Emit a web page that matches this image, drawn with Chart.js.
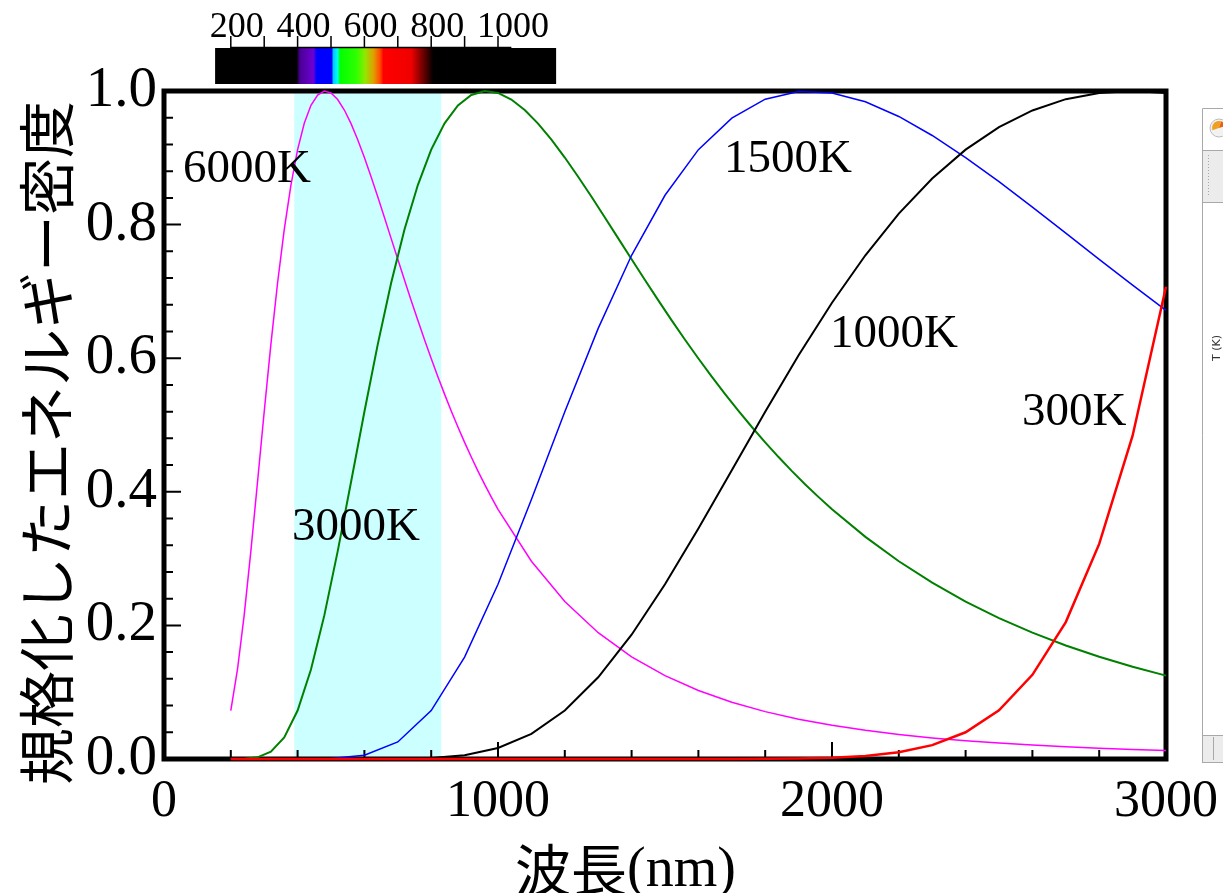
<!DOCTYPE html>
<html><head><meta charset="utf-8">
<script src="https://cdn.jsdelivr.net/npm/chart.js@4.4.0/dist/chart.umd.min.js"></script>
<style>html,body{margin:0;padding:0;background:#fff;overflow:hidden}</style>
</head><body>
<div style="width:1223px;height:893px;position:relative"><canvas id="c" width="1223" height="893"></canvas></div>
<script>
// ---------- data ----------
const wavelengths = [200,300,400,500,600,700,800,900,1000,1100,1200,1300,1400,1500,1600,1700,1800,1900,2000,2100,2200,2300,2400,2500,2600,2700,2800,2900,3000];
const wavelengths6000K = [200,220,240,260,280,300,320,340,360,380,400,420,440,460,480,500,520,540,560,580,600,620,640,660,680,700,720,740,760,780,800,820,840,860,880,900,920,940,960,980,1000,1100,1200,1300,1400,1500,1600,1700,1800,1900,2000,2100,2200,2300,2400,2500,2600,2700,2800,2900,3000];
const values6000K = [0.0725,0.1340,0.2150,0.3108,0.4147,0.5199,0.6207,0.7126,0.7926,0.8592,0.9122,0.9516,0.9785,0.9940,0.9999,0.9971,0.9872,0.9715,0.9511,0.9271,0.9004,0.8716,0.8416,0.8107,0.7794,0.7480,0.7170,0.6865,0.6567,0.6277,0.5995,0.5724,0.5462,0.5211,0.4970,0.4740,0.4520,0.4310,0.4110,0.3920,0.3738,0.2960,0.2357,0.1891,0.1530,0.1248,0.1026,0.0850,0.0709,0.0596,0.0504,0.0429,0.0368,0.0316,0.0274,0.0238,0.0208,0.0182,0.0160,0.0142,0.0126];
const wavelengths3000K = [200,240,280,320,360,400,440,480,520,560,600,640,680,720,760,800,840,880,920,960,1000,1040,1080,1120,1160,1200,1240,1280,1320,1360,1400,1440,1480,1520,1560,1600,1640,1680,1720,1760,1800,1840,1880,1920,1960,2000,2100,2200,2300,2400,2500,2600,2700,2800,2900,3000];
const values3000K = [0.0000,0.0003,0.0025,0.0111,0.0324,0.0725,0.1340,0.2150,0.3108,0.4147,0.5199,0.6207,0.7126,0.7926,0.8592,0.9122,0.9516,0.9785,0.9940,0.9999,0.9971,0.9872,0.9715,0.9511,0.9271,0.9004,0.8716,0.8416,0.8107,0.7794,0.7480,0.7170,0.6865,0.6567,0.6277,0.5995,0.5724,0.5462,0.5211,0.4970,0.4740,0.4520,0.4310,0.4110,0.3920,0.3738,0.3325,0.2960,0.2639,0.2357,0.2110,0.1891,0.1700,0.1530,0.1380,0.1248];
const values1500K = [0,0,0,0.0006,0.0056,0.0255,0.0725,0.1526,0.2615,0.3884,0.5199,0.6446,0.7541,0.8439,0.9122,0.9594,0.9878,0.9993,0.9971,0.9838,0.9619,0.9334,0.9004,0.8642,0.8261,0.7872,0.7480,0.7094,0.6715];
const values1000K = [0,0,0,0,0,0.0002,0.0014,0.0056,0.0164,0.0377,0.0725,0.1223,0.1861,0.2615,0.3449,0.4324,0.5199,0.6044,0.6831,0.7541,0.8165,0.8691,0.9122,0.9460,0.9709,0.9878,0.9971,1.0000,0.9971];
const values300K = [0,0,0,0,0,0,0,0,0,0,0,0,0,0,0,0.0001,0.0002,0.0007,0.0018,0.0045,0.0100,0.0207,0.0400,0.0730,0.1260,0.2050,0.3220,0.4840,0.7070];
const seriesNames = ['300K','1000K','1500K','3000K','6000K'];
const xTickLabels = [0,1000,2000,3000];
const yTickLabels = ['0.0','0.2','0.4','0.6','0.8','1.0'];
const visibleBand = [390, 830];
const colorbarRange = [153, 1174];
const colorbarTicks = [200,300,400,500,600,700,800,900,1000];
const colorbarLabels = [200,400,600,800,1000];
const spectrumStops = [[397,'#000000'],[407,'#4a0096'],[447,'#6e00d2'],[457,'#0000ff'],[502,'#0000ff'],[507,'#00c8ff'],[520,'#00ffee'],[527,'#00ff00'],[577,'#30ff00'],[602,'#90e800'],[627,'#e0a000'],[647,'#ff4a00'],[657,'#ff0000'],[740,'#f00000'],[806,'#000000']];
const curveLabels = [
  {text:'6000K', x:57, y:0.864},
  {text:'3000K', x:383, y:0.328},
  {text:'1500K', x:1677, y:0.879},
  {text:'1000K', x:1994, y:0.617},
  {text:'300K', x:2569, y:0.500}
];
const yTitle = '規格化したエネルギー密度';
const xTitleJa = '波長';
const xTitleUnit = '(nm)';

function pts(xs, ys){ return xs.map((v,i)=>({x:v, y:ys[i]})); }

const serif = '"Liberation Serif", "Times New Roman", serif';
const cjk = '"Noto Sans CJK JP", "Noto Sans CJK SC", sans-serif';

const deco = {
  id:'deco',
  beforeDatasetsDraw(chart){
    const {ctx, chartArea:a, scales:{x,y}} = chart;
    ctx.save();
    const b0 = x.getPixelForValue(visibleBand[0]), b1 = x.getPixelForValue(visibleBand[1]);
    ctx.fillStyle = '#ccffff';
    ctx.fillRect(b0, a.top, b1-b0, a.bottom-a.top);
    ctx.strokeStyle = '#000'; ctx.lineWidth = 5;
    ctx.strokeRect(a.left, a.top, a.right-a.left, a.bottom-a.top);
    ctx.lineWidth = 2;
    ctx.beginPath();
    for (let v=200; v<3000; v+=200){
      const px = x.getPixelForValue(v);
      const len = (v%1000===0) ? 17 : 9;
      ctx.moveTo(px, a.bottom); ctx.lineTo(px, a.bottom-len);
    }
    for (let k=1; k<25; k++){
      const py = y.getPixelForValue(k*0.04);
      const len = (k%5===0) ? 17 : 9;
      ctx.moveTo(a.left, py); ctx.lineTo(a.left+len, py);
    }
    ctx.stroke();
    ctx.restore();
  },
  afterDraw(chart){
    const {ctx, chartArea:a, scales:{x,y}} = chart;
    ctx.save();
    // colorbar
    const c0 = x.getPixelForValue(colorbarRange[0]), c1 = x.getPixelForValue(colorbarRange[1]);
    ctx.fillStyle = '#000';
    ctx.fillRect(c0, 48, c1-c0, 36);
    const s0 = spectrumStops[0][0], s1 = spectrumStops[spectrumStops.length-1][0];
    const g0 = x.getPixelForValue(s0), g1 = x.getPixelForValue(s1);
    const grad = ctx.createLinearGradient(g0,0,g1,0);
    spectrumStops.forEach(([nm,col])=>grad.addColorStop((nm-s0)/(s1-s0), col));
    ctx.fillStyle = grad;
    ctx.fillRect(g0, 48, g1-g0, 36);
    ctx.strokeStyle = '#000'; ctx.lineWidth = 1.5;
    ctx.beginPath();
    ctx.moveTo(x.getPixelForValue(200), 47.5); ctx.lineTo(x.getPixelForValue(1040), 47.5);
    colorbarTicks.forEach(v=>{ const px=x.getPixelForValue(v); ctx.moveTo(px,48); ctx.lineTo(px,36); });
    ctx.stroke();
    ctx.fillStyle = '#000';
    ctx.font = '36px ' + serif;
    ctx.textAlign = 'left'; ctx.textBaseline = 'alphabetic';
    colorbarLabels.forEach(v=> ctx.fillText(String(v), x.getPixelForValue(v)-21, 37));
    // curve labels
    ctx.font = '47px ' + serif;
    curveLabels.forEach(l=> ctx.fillText(l.text, x.getPixelForValue(l.x), y.getPixelForValue(l.y)));
    // y title
    ctx.save();
    ctx.translate(46, 443); ctx.rotate(-Math.PI/2);
    ctx.font = '57px ' + cjk; ctx.textAlign='center'; ctx.textBaseline='middle';
    ctx.fillText(yTitle, 0, 0);
    ctx.restore();
    // x title
    ctx.textBaseline = 'alphabetic'; ctx.textAlign = 'left';
    ctx.font = '56px ' + cjk;
    const wJa = ctx.measureText(xTitleJa).width;
    ctx.fillText(xTitleJa, 515, 891);
    ctx.font = '56px ' + serif;
    ctx.fillText(xTitleUnit, 515 + wJa, 886);
    // right-hand window fragment
    ctx.strokeStyle = '#a8a8a8'; ctx.lineWidth = 1;
    ctx.fillStyle = '#ececec';
    ctx.fillRect(1203, 150, 20, 52);
    ctx.fillRect(1203, 735, 20, 27);
    ctx.beginPath();
    ctx.moveTo(1202.5, 763); ctx.lineTo(1202.5, 108.5); ctx.lineTo(1223, 108.5);
    ctx.moveTo(1202.5, 762.5); ctx.lineTo(1223, 762.5);
    ctx.moveTo(1203, 150.5); ctx.lineTo(1223, 150.5);
    ctx.moveTo(1203, 202.5); ctx.lineTo(1223, 202.5);
    ctx.moveTo(1203, 735.5); ctx.lineTo(1223, 735.5);
    ctx.moveTo(1213.5, 737); ctx.lineTo(1213.5, 760);
    ctx.stroke();
    ctx.setLineDash([1,2]);
    ctx.beginPath(); ctx.moveTo(1208.5, 155); ctx.lineTo(1208.5, 196); ctx.stroke();
    ctx.setLineDash([]);
    ctx.beginPath(); ctx.arc(1219, 128, 9, 0, Math.PI*2); ctx.fillStyle='#f2f2f2'; ctx.fill();
    ctx.strokeStyle='#bbbbbb'; ctx.stroke();
    ctx.beginPath(); ctx.moveTo(1219,128); ctx.arc(1219,128,7,Math.PI*0.9,Math.PI*1.6); ctx.closePath(); ctx.fillStyle='#f0a020'; ctx.fill();
    ctx.beginPath(); ctx.moveTo(1219,128); ctx.arc(1219,128,7,Math.PI*1.6,Math.PI*1.9); ctx.closePath(); ctx.fillStyle='#e86010'; ctx.fill();
    ctx.save();
    ctx.translate(1217, 348); ctx.rotate(-Math.PI/2);
    ctx.font = '11px "DejaVu Sans", sans-serif'; ctx.fillStyle='#333'; ctx.textAlign='center'; ctx.textBaseline='middle';
    ctx.fillText('T (K)', 0, 0);
    ctx.restore();
    ctx.restore();
  }
};

new Chart(document.getElementById('c'), {
  type:'line',
  data:{ datasets:[
    {label:seriesNames[0], data:pts(wavelengths, values300K), borderColor:'#ff0000', borderWidth:2.5},
    {label:seriesNames[1], data:pts(wavelengths, values1000K), borderColor:'#000000', borderWidth:2},
    {label:seriesNames[2], data:pts(wavelengths, values1500K), borderColor:'#0000ff', borderWidth:1.5},
    {label:seriesNames[3], data:pts(wavelengths3000K, values3000K), borderColor:'#008000', borderWidth:2},
    {label:seriesNames[4], data:pts(wavelengths6000K, values6000K), borderColor:'#ff00ff', borderWidth:1.5}
  ]},
  options:{
    responsive:false, animation:false, devicePixelRatio:1,
    layout:{padding:{top:91, right:57, left:0, bottom:0}},
    elements:{point:{radius:0}, line:{tension:0, borderCapStyle:'butt'}},
    datasets:{line:{clip:4}},
    plugins:{legend:{display:false}, tooltip:{enabled:false}},
    scales:{
      x:{type:'linear', min:0, max:3000,
        afterFit(s){ s.height = 134; },
        afterBuildTicks(s){ s.ticks = xTickLabels.map(v=>({value:v})); },
        grid:{display:false, drawTicks:true, tickLength:12}, border:{display:false},
        ticks:{color:'#000', font:{family:serif, size:52}, padding:0, maxRotation:0, autoSkip:false, callback:v=>String(v)}
      },
      y:{type:'linear', min:0, max:1,
        afterFit(s){ s.width = 164; },
        afterBuildTicks(s){ s.ticks = yTickLabels.map(t=>({value:parseFloat(t)})); },
        grid:{display:false, drawTicks:false}, border:{display:false},
        ticks:{color:'#000', font:{family:serif, size:57}, padding:7, autoSkip:false, callback:v=>Number(v).toFixed(1)}
      }
    }
  },
  plugins:[deco]
});
</script>
</body></html>
